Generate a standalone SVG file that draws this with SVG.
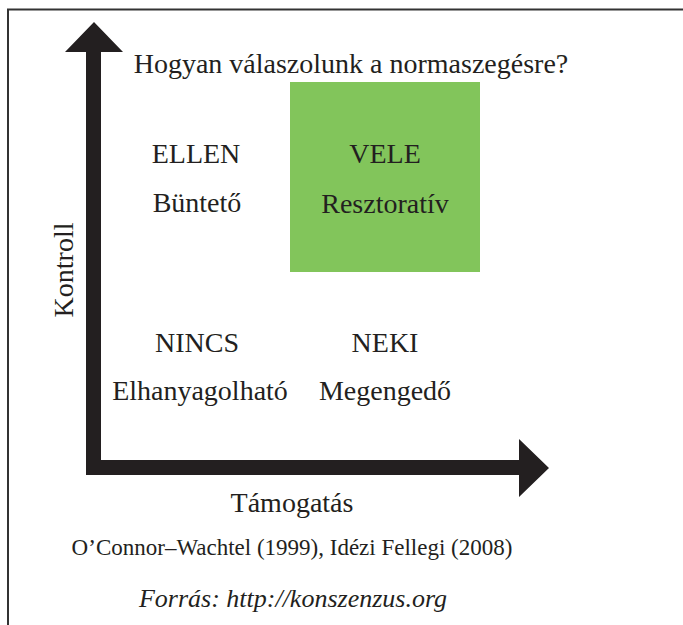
<svg xmlns="http://www.w3.org/2000/svg" width="683" height="625" viewBox="0 0 683 625">
  <style>
    text { font-family: "Liberation Serif", "DejaVu Serif", serif; fill: #231f20; text-anchor: middle; }
    .lbl { font-size: 28px; }
    .title { font-size: 28px; }
    .cite { font-size: 23px; }
    .src { font-size: 26px; font-style: italic; }
    .axis { fill: #231f20; }
  </style>
  <rect width="683" height="625" fill="#ffffff"/>
  <!-- frame: top and left edges -->
  <path d="M8 625 V9.5 H683" fill="none" stroke="#333" stroke-width="2"/>

  <text class="title" x="351" y="73">Hogyan válaszolunk a normaszegésre?</text>

  <!-- axes -->
  <g id="connectors">
    <polygon class="axis" points="94,22 123,52 101,52 101,460 519,460 519,439 549,468 519,497 519,475 86,475 86,52 65,52"/>
  </g>

  <g id="node-ellen">
    <text class="lbl" x="196" y="163">ELLEN</text>
    <text class="lbl" x="197" y="212">Büntető</text>
  </g>
  <g id="node-vele">
    <rect x="290" y="82" width="190" height="190" fill="#82c55b"/>
    <text class="lbl" x="385" y="163">VELE</text>
    <text class="lbl" x="385" y="213">Resztoratív</text>
  </g>
  <g id="node-nincs">
    <text class="lbl" x="197" y="352">NINCS</text>
    <text class="lbl" x="200" y="400">Elhanyagolható</text>
  </g>
  <g id="node-neki">
    <text class="lbl" x="385" y="352">NEKI</text>
    <text class="lbl" x="385" y="400">Megengedő</text>
  </g>

  <text class="lbl" transform="translate(73 270) rotate(-90)">Kontroll</text>
  <text class="lbl" x="292" y="512">Támogatás</text>
  <text class="cite" x="292" y="555">O’Connor–Wachtel (1999), Idézi Fellegi (2008)</text>
  <text class="src" x="293" y="607">Forrás: http://konszenzus.org</text>
</svg>
